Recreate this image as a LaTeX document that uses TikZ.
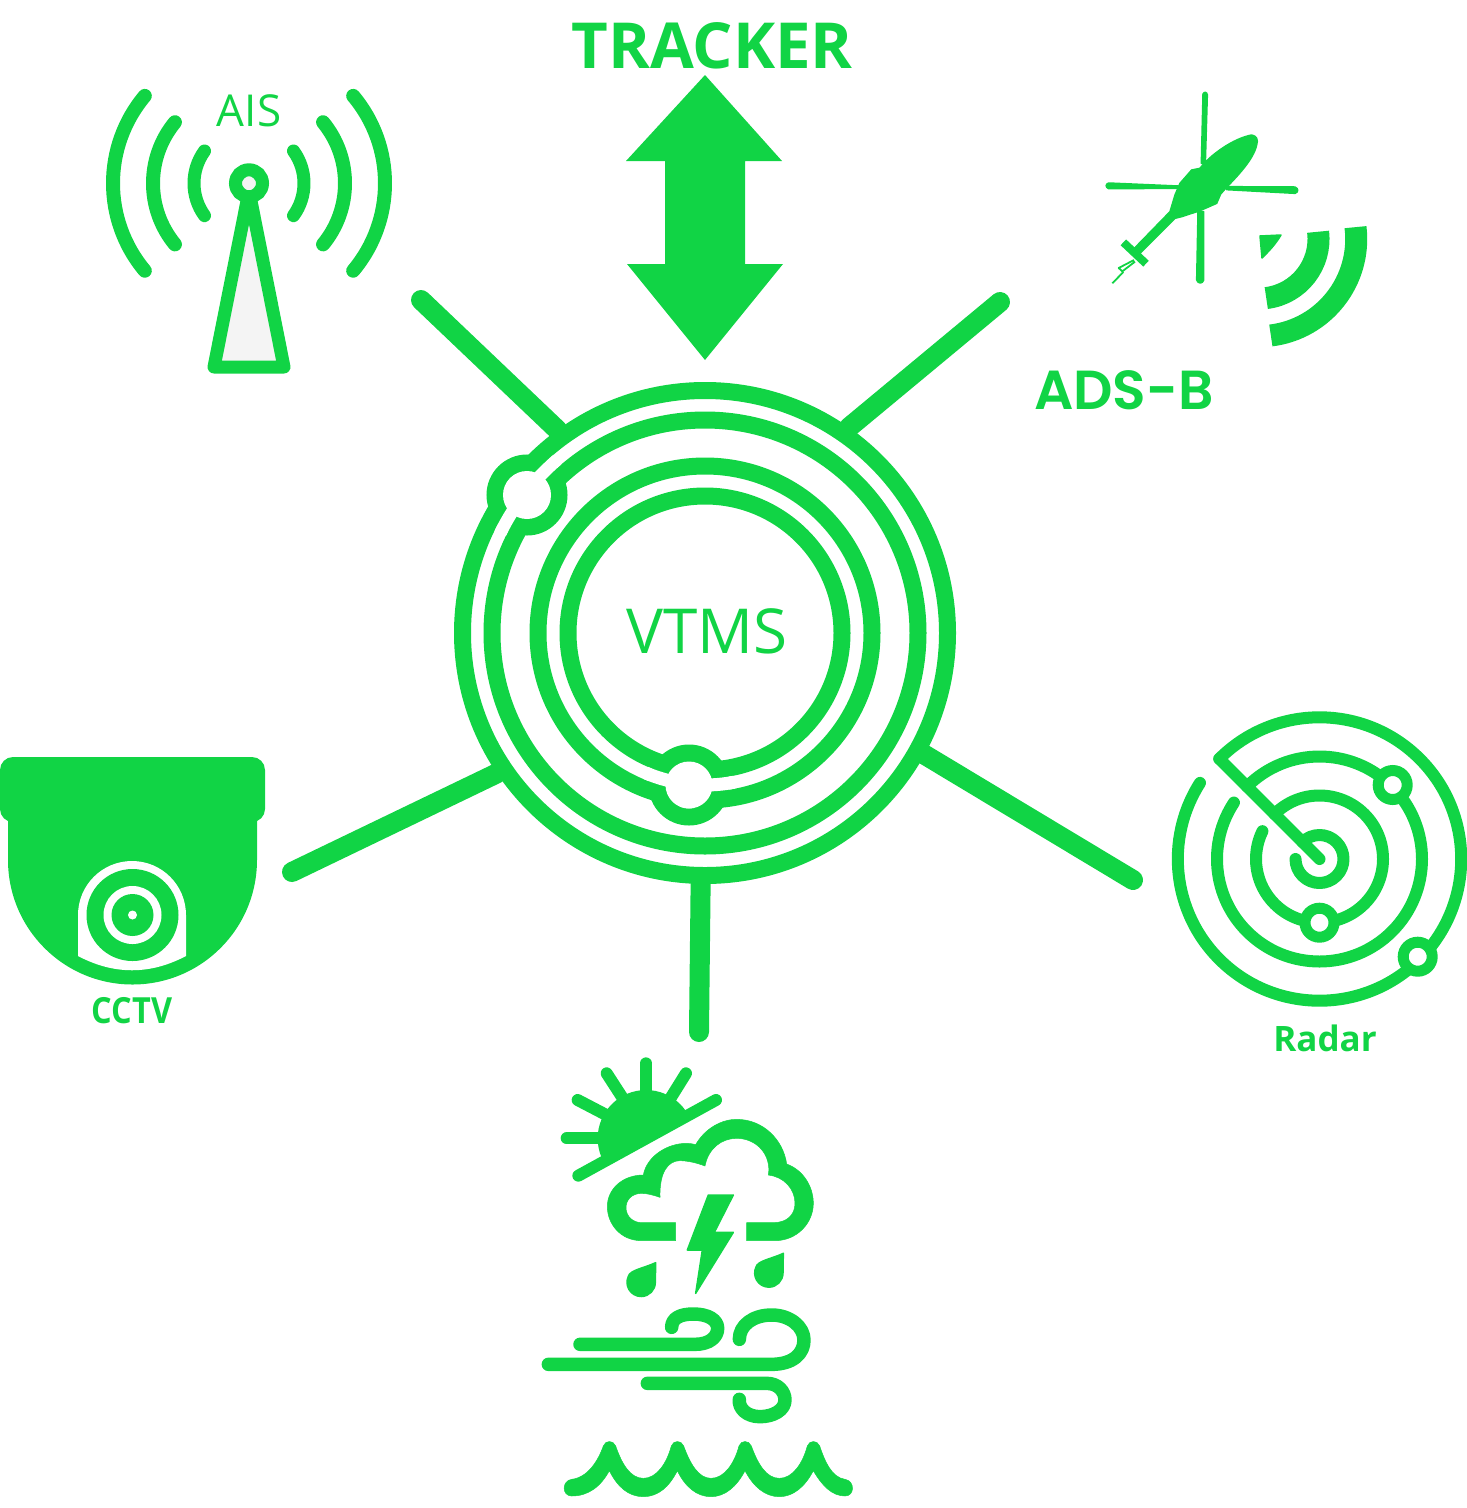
\documentclass[tikz,border=0pt]{standalone}
\usepackage{fontspec}
\setmainfont{Open Sans}
\newfontfamily\adsfont{Poppins}[BoldFont={Poppins SemiBold}]
\definecolor{vgreen}{HTML}{11D445}
\definecolor{towergrey}{HTML}{F4F4F4}
\tikzset{
  spoke/.style={draw=vgreen,line width=20pt,line cap=round},
  ring/.style={draw=vgreen,line width=17pt},
  hub/.style={circle,draw=vgreen,line width=17pt,fill=white,minimum size=485pt,inner sep=0pt},
  gap/.style={draw=white,line width=12.5pt},
  stroke/.style={draw=vgreen,line cap=round,line join=round},
  blob/.style={fill=vgreen,draw=vgreen,line width=1.5pt,line join=round},
  title/.style={text=vgreen,inner sep=0pt,font=\fontsize{63.5}{70}\selectfont\bfseries},
  caption/.style={text=vgreen,inner sep=0pt,font=\fontsize{36}{42}\selectfont\bfseries},
}
\begin{document}
\begin{tikzpicture}[x=1pt,y=1pt,yscale=-1]
\useasboundingbox (0,0) rectangle (1467,1508);

% hub
\node[hub] (hub) at (705,633) {};
\node[text=vgreen,inner sep=0pt,font=\fontsize{62}{70}\selectfont] (vtms) at (707,631) {VTMS};
\draw[ring] (705,633) circle[radius=213];
\draw[ring] (705,633) circle[radius=167];
\draw[ring] (705,633) circle[radius=137];

% free ends of the spokes
\coordinate (sAIS) at (421,300);
\coordinate (sADS) at (1000,302);
\coordinate (sRAD) at (1133,880);
\coordinate (sWX) at (699,1032);
\coordinate (sCAM) at (292,872);
\draw[spoke] (sAIS) -- (hub.126.7);
\draw[spoke] (sADS) -- (hub.55.1);
\draw[spoke] (sRAD) -- (hub.-29);
\draw[spoke] (sWX) -- (hub.-91.9);
\draw[spoke] (sCAM) -- (hub.214.7);

% orbit markers
\draw[ring] (527,495) circle[radius=32];
\draw[gap] (705,633)++(206:227.75) arc[start angle=206,end angle=229.5,radius=227.75];
\fill[white] (527,495) circle[radius=24];
\draw[ring] (689,785) circle[radius=32];
\draw[gap,line width=13pt] (705,633)++(79:152) arc[start angle=79,end angle=113,radius=152];
\fill[white] (689,785) circle[radius=23.5];

% TRACKER
\node[title] (tracker) at (712,46) {TRACKER};
\fill[vgreen] (705,75) -- (782,161) -- (745,161) -- (745,264) -- (783,264) -- (705,360) -- (627,264) -- (665,264) -- (665,161) -- (626,161) -- cycle;

% AIS
\node[text=vgreen,inner sep=0pt,font=\fontsize{44}{50}\selectfont] (ais) at (249,111) {AIS};
\foreach \r/\a/\w in {55/36/13,96/39.5/14,136/40/14}{
  \draw[stroke,line width=\w pt] (249,183.3)++(180-\a:\r) arc[start angle=180-\a,end angle=180+\a,radius=\r];
  \draw[stroke,line width=\w pt] (249,183.3)++(-\a:\r) arc[start angle=-\a,end angle=\a,radius=\r];
}
\draw[stroke,line width=13pt,fill=towergrey] (249,191) -- (214,367) -- (284,367) -- cycle;
\draw[draw=vgreen,line width=13pt,fill=towergrey] (249,183.3) circle[radius=13.5];

% helicopter
\begin{scope}[shift={(1060,80)},scale=0.33333]
  \fill[blob] (429,42) .. controls (433,34) and (440,36) .. (442,44) -- (436,250) -- (424,250) -- cycle;
  \fill[blob] (414,395) -- (431,395) -- (431,600) .. controls (428,612) and (414,612) .. (410,600) -- cycle;
  \fill[blob] (146,309) -- (355,318) -- (355,325) -- (146,326) .. controls (136,322) and (136,312) .. (146,309) -- cycle;
  \fill[blob] (500,320) -- (705,321) .. controls (716,326) and (716,336) .. (705,340) -- (500,329) -- cycle;
  \fill[blob] (575,165) .. controls (590,168) and (595,178) .. (590,195)
     .. controls (580,240) and (530,290) .. (497,325) -- (482,342) -- (470,370)
     -- (420,392) -- (365,410) -- (345,415) -- (240,520) -- (222,506) -- (330,395)
     -- (345,345) -- (360,310) -- (395,270) -- (420,265)
     .. controls (450,225) and (520,175) .. (575,165) -- cycle;
  \draw[vgreen,line width=8pt] (190,487) -- (258,551);
  \draw[vgreen,line width=1.8pt,line join=round] (222,540) -- (176,564) -- (187,574) -- (225,545);
  \draw[vgreen,line width=1.8pt] (190,576) -- (157,610);
\end{scope}
% ADS-B signal
\draw[draw=vgreen,line width=22pt] (1259,239)++(-7:97.2) arc[start angle=-7,end angle=83,radius=97.2];
\draw[draw=vgreen,line width=22pt] (1259,239)++(-7:59.5) arc[start angle=-7,end angle=83,radius=59.5];
\fill[blob] (1260,236) -- (1281,235) .. controls (1275,245) and (1269,251) .. (1262,258) -- cycle;
\node[text=vgreen,inner sep=0pt,font=\fontsize{55}{60}\selectfont\adsfont\bfseries] (ads) at (1124,390) {ADS-B};

% CCTV
\fill[vgreen,rounded corners=13pt] (0,757) rectangle (265,822);
\fill[vgreen] (8,810) -- (8,860) arc[start angle=180,end angle=0,radius=124.5] -- (257,810) -- cycle;
\fill[white] (78,956) -- (78,915) arc[start angle=180,end angle=360,radius=54] -- (186,956) .. controls (150,975) and (114,975) .. (78,956) -- cycle;
\fill[vgreen] (132.5,915) circle[radius=46];
\fill[white] (132.5,915) circle[radius=29];
\fill[vgreen] (132.5,915) circle[radius=21];
\fill[white] (132.5,915) circle[radius=4.5];
\node[caption,xscale=0.9] (cctv) at (132,1011) {CCTV};

% Radar
\foreach \r/\e in {141.7/212.5,102.5/213.4,63.5/206,24/180}{
  \draw[stroke,line width=12pt] (1319.5,859)++(-135:\r) arc[start angle=-135,end angle=\e,radius=\r];
}
\draw[stroke,line width=12pt] (1319.5,859) -- (1219.3,758.8);
\foreach \p in {(1392.7,785),(1319.5,922.7),(1417.7,956.7)}{
  \draw[draw=vgreen,line width=11pt,fill=white] \p circle[radius=14.5];
}
\node[caption,font=\fontsize{35}{42}\selectfont\bfseries] (radar) at (1325,1038) {Radar};

% Weather
\begin{scope}[shift={(530,1040)},scale=0.33333]
  % sun
  \begin{scope}
    \clip (100,432) -- (600,157) -- (500,0) -- (100,0) -- cycle;
    \fill[vgreen] (348,295) circle[radius=145];
  \end{scope}
  \draw[stroke,line width=12pt] (145,407) -- (558,180);
  \draw[stroke,line width=12pt] (348,70) -- (348,170);
  \draw[stroke,line width=12pt] (230,100) -- (285,185);
  \draw[stroke,line width=12pt] (468,100) -- (415,185);
  \draw[stroke,line width=12pt] (143,180) -- (235,228);
  \draw[stroke,line width=12pt] (110,295) -- (215,295);
  % cloud
  \fill[blob,line width=.5pt]
    (437,602) -- (335,602) .. controls (270,602) and (232,550) .. (232,500)
    .. controls (232,445) and (280,405) .. (340,405)
    .. controls (350,350) and (410,310) .. (470,310)
    .. controls (480,310) and (490,312) .. (497,314)
    .. controls (525,265) and (575,238) .. (620,238)
    .. controls (700,238) and (760,300) .. (770,372)
    .. controls (820,390) and (850,440) .. (850,490)
    .. controls (850,550) and (800,602) .. (735,602)
    -- (650,602) -- (650,548) -- (730,548)
    .. controls (770,548) and (795,525) .. (795,490)
    .. controls (795,445) and (760,410) .. (715,405)
    .. controls (725,345) and (680,295) .. (620,295)
    .. controls (575,295) and (535,325) .. (525,378)
    .. controls (500,368) and (470,362) .. (450,362)
    .. controls (415,362) and (388,395) .. (390,472)
    .. controls (370,465) and (350,460) .. (335,460)
    .. controls (305,460) and (288,480) .. (288,503)
    .. controls (288,530) and (310,548) .. (335,548)
    -- (437,548) -- cycle;
  % lightning
  \fill[blob] (535,465) -- (610,465) -- (553,577) -- (610,577) -- (497,760) -- (517,630) -- (472,630) -- cycle;
  % drops
  \fill[blob] (377,668) -- (376,727) arc[start angle=0,end angle=205,radius=42.5] .. controls (300,690) and (340,685) .. (377,668) -- cycle;
  \fill[blob] (760,640) -- (759,699) arc[start angle=0,end angle=205,radius=42.5] .. controls (683,662) and (723,657) .. (760,640) -- cycle;
  % wind
  \draw[stroke,line width=13.5pt] (150,913) -- (495,913) .. controls (540,913) and (563,890) .. (563,865) .. controls (563,840) and (535,822) .. (490,822) .. controls (450,822) and (425,835) .. (425,862);
  \draw[stroke,line width=13.5pt] (55,973) -- (725,973) .. controls (790,973) and (822,940) .. (822,900) .. controls (822,860) and (780,825) .. (725,825) .. controls (670,825) and (628,855) .. (628,898);
  \draw[stroke,line width=13.5pt] (352,1030) -- (710,1030) .. controls (745,1030) and (765,1055) .. (765,1080) .. controls (765,1110) and (730,1130) .. (690,1130) .. controls (650,1130) and (625,1105) .. (628,1078);
  % waves
  \fill[blob,line width=.5pt] (125,1318) .. controls (175,1312) and (205,1260) .. (220,1218)
    .. controls (226,1200) and (250,1200) .. (257,1218)
    .. controls (275,1270) and (300,1315) .. (340,1315)
    .. controls (380,1315) and (410,1270) .. (424,1218)
    .. controls (430,1200) and (454,1200) .. (461,1218)
    .. controls (480,1270) and (505,1315) .. (543,1315)
    .. controls (583,1315) and (613,1270) .. (627,1218)
    .. controls (633,1200) and (657,1200) .. (664,1218)
    .. controls (683,1270) and (708,1315) .. (748,1315)
    .. controls (788,1315) and (818,1270) .. (832,1218)
    .. controls (838,1200) and (862,1200) .. (869,1218)
    .. controls (885,1265) and (905,1312) .. (945,1318)
    .. controls (975,1322) and (975,1368) .. (945,1368)
    .. controls (905,1368) and (875,1335) .. (850,1292)
    .. controls (825,1340) and (790,1370) .. (748,1370)
    .. controls (705,1370) and (670,1340) .. (645,1292)
    .. controls (620,1340) and (585,1370) .. (543,1370)
    .. controls (500,1370) and (465,1340) .. (442,1292)
    .. controls (418,1340) and (385,1370) .. (340,1370)
    .. controls (295,1370) and (262,1340) .. (238,1292)
    .. controls (212,1340) and (175,1368) .. (125,1368)
    .. controls (95,1368) and (95,1322) .. (125,1318) -- cycle;
\end{scope}
\end{tikzpicture}
\end{document}
